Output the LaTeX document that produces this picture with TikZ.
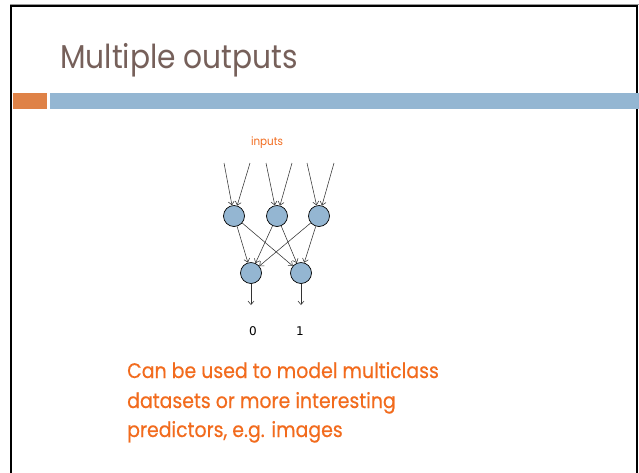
\documentclass[tikz,border=0pt]{standalone}
\usepackage{fontspec}
\usetikzlibrary{arrows.meta}
\setmainfont{Poppins}
\newfontfamily\titlefont[FakeStretch=0.9]{Poppins}
\newfontfamily\bodyfont[FakeStretch=0.9,FakeBold=0.4]{Poppins}
\newfontfamily\smallfont[FakeStretch=0.9]{Poppins}
\newfontfamily\numfont{DejaVu Sans}
\definecolor{titlebrown}{HTML}{76605A}
\definecolor{slideorange}{HTML}{F26B1D}
\definecolor{barorange}{HTML}{DF8247}
\definecolor{barblue}{HTML}{94B6D2}
\tikzset{
  neuron/.style={circle, draw=black, line width=0.7pt, fill=barblue, minimum size=21pt, inner sep=0pt},
  conn/.style={draw=black!80, line width=0.55pt, -{Straight Barb[length=3.5pt,width=6pt]}},
  bodyline/.style={anchor=base west, inner sep=0pt, text=slideorange, font=\bodyfont\fontsize{21}{25}\selectfont},
  numlabel/.style={inner sep=0pt, anchor=base, font=\numfont\fontsize{12}{14}\selectfont}
}
\begin{document}
\begin{tikzpicture}[x=1pt,y=-1pt]
\useasboundingbox (0,0) rectangle (639,472);
\fill[white] (0,0) rectangle (639,472);
% slide frame
\draw[black, line width=2pt] (11,480) -- (11,6) -- (637,6) -- (637,480);
\draw[black!40, line width=0.6pt] (10,4.5) -- (639,4.5);
% title
\node[anchor=base west, inner sep=0pt, text=titlebrown, font=\titlefont\fontsize{33}{38}\selectfont] (title) at (60,68) {Multiple outputs};
% bars
\fill[barorange] (12.5,93) rectangle (47,109);
\fill[barblue] (50,93) rectangle (639,109);
% network
\node[inner sep=0pt, text=slideorange, font=\smallfont\fontsize{11.5}{13}\selectfont, anchor=base] (inputs) at (267,145) {inputs};
\node[neuron] (h1) at (234,216) {};
\node[neuron] (h2) at (277,216) {};
\node[neuron] (h3) at (319,216) {};
\node[neuron] (o1) at (251,273) {};
\node[neuron] (o2) at (301,273) {};
\coordinate (i1a) at (224,163);
\coordinate (i1b) at (250,163);
\coordinate (i2a) at (266,163);
\coordinate (i2b) at (292,163);
\coordinate (i3a) at (307,163);
\coordinate (i3b) at (334,163);
\coordinate (e1) at (251,305);
\coordinate (e2) at (301,305);
\draw[conn] (i1a) -- (h1);
\draw[conn] (i1b) -- (h1);
\draw[conn] (i2a) -- (h2);
\draw[conn] (i2b) -- (h2);
\draw[conn] (i3a) -- (h3);
\draw[conn] (i3b) -- (h3);
\foreach \h in {h1,h2,h3}{
  \draw[conn] (\h) -- (o1);
  \draw[conn] (\h) -- (o2);
}
\draw[conn] (o1) -- (e1);
\draw[conn] (o2) -- (e2);
\node[numlabel] (l0) at (253,335) {0};
\node[numlabel] (l1) at (300,335) {1};
% body text
\node[bodyline] (b1) at (127,378) {Can be used to model multiclass};
\node[bodyline] (b2) at (127,408) {datasets or more interesting};
\node[bodyline] (b3) at (127,437) {predictors, e.g. images};
\end{tikzpicture}
\end{document}
